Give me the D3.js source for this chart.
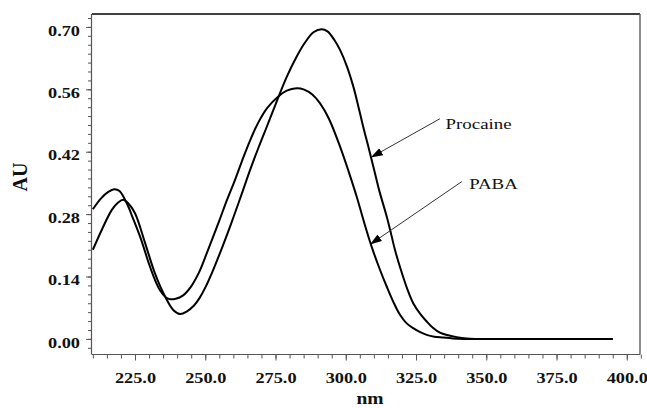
<!DOCTYPE html>
<html>
<head>
<meta charset="utf-8">
<script src="https://cdn.jsdelivr.net/npm/d3@7"></script>
<style>
  body { margin: 0; background: #fff; }
  svg { display: block; }
  text { font-family: "Liberation Serif", "Times New Roman", serif; }
</style>
</head>
<body>
<script>
const width = 647;
const height = 408;

// PABA spectrum (lower main peak)
const pabaNm = [210, 213, 215.5, 217.6, 219.5, 222.6, 224, 227, 230, 232, 234, 236, 237.5, 239.5, 242, 245, 248, 251, 254.8, 257.5, 260.6, 263, 265.9, 269, 272, 276, 279, 282.5, 285, 288, 290.8, 294, 298, 301, 303.9, 306.5, 309.2, 312, 314.6, 317, 319.3, 321.5, 324, 326.5, 328.8, 331.5, 334.7, 338, 342, 360, 380, 395];
const pabaAU = [0.291, 0.316, 0.330, 0.336, 0.332, 0.297, 0.275, 0.226, 0.168, 0.134, 0.108, 0.093, 0.089, 0.090, 0.097, 0.118, 0.152, 0.200, 0.262, 0.308, 0.357, 0.398, 0.4445, 0.487, 0.518, 0.544, 0.557, 0.5625, 0.560, 0.549, 0.529, 0.494, 0.431, 0.376, 0.319, 0.262, 0.207, 0.158, 0.117, 0.082, 0.054, 0.036, 0.024, 0.015, 0.009, 0.005, 0.003, 0.001, 0, 0, 0, 0];

// Procaine spectrum (higher main peak)
const procNm = [210, 213.2, 216.7, 219, 220.8, 222.5, 225, 228.6, 232.1, 235.7, 238.6, 241, 243.5, 246, 248, 250, 252.5, 255.2, 258, 260.6, 263.3, 265.9, 269, 271.9, 274, 276, 279, 282.5, 285.5, 288.5, 291.4, 293.5, 296, 298, 300.5, 302.7, 304.5, 306.2, 308, 309.8, 312, 314.6, 316, 317.5, 319.6, 322, 324, 326.5, 328.8, 331, 333.5, 336.5, 339.5, 343, 346, 370, 395];
const procAU = [0.200, 0.245, 0.289, 0.306, 0.312, 0.305, 0.282, 0.215, 0.147, 0.095, 0.065, 0.056, 0.062, 0.075, 0.092, 0.115, 0.150, 0.192, 0.238, 0.283, 0.331, 0.378, 0.430, 0.476, 0.510, 0.542, 0.588, 0.633, 0.665, 0.688, 0.695, 0.690, 0.670, 0.648, 0.610, 0.566, 0.521, 0.476, 0.432, 0.387, 0.331, 0.274, 0.239, 0.200, 0.155, 0.110, 0.080, 0.056, 0.039, 0.025, 0.014, 0.008, 0.004, 0.001, 0, 0, 0];

const xTicks = [225, 250, 275, 300, 325, 350, 375, 400];
const yTicks = [0, 0.14, 0.28, 0.42, 0.56, 0.70];

// annotation: label text, arrow tail (nm, AU), arrow tip (nm, AU), label position
const labels = ["Procaine", "PABA"];
const arrowFrom = [[333.5, 0.494], [341.3, 0.353]];
const arrowTo = [[309.2, 0.408], [308.9, 0.213]];
const labelAt = [[335.5, 0.4705], [343.9, 0.3365]];

const stretch = 1.22; // text in the figure is wider than normal

const x = d3.scaleLinear().domain([209.7, 404.7]).range([92, 640]);
const y = d3.scaleLinear().domain([-0.035, 0.729]).range([354.5, 14]);

const svg = d3.select("body").append("svg")
  .attr("width", width)
  .attr("height", height);

const defs = svg.append("defs");
defs.append("marker")
  .attr("id", "arrow")
  .attr("markerUnits", "userSpaceOnUse")
  .attr("viewBox", "0 0 12 8")
  .attr("refX", 11)
  .attr("refY", 4)
  .attr("markerWidth", 12)
  .attr("markerHeight", 8)
  .attr("orient", "auto")
  .append("path")
  .attr("d", "M0,0 L12,4 L0,8 Z")
  .attr("fill", "#000");

// minor ticks
svg.append("g")
  .attr("transform", "translate(91,0)")
  .call(d3.axisLeft(y).tickValues(d3.range(-0.02, 0.73, 0.02)).tickSize(3).tickFormat(""))
  .call(g => g.select(".domain").remove())
  .selectAll("line").attr("stroke", "#555");

svg.append("g")
  .attr("transform", "translate(0,354.5)")
  .call(d3.axisBottom(x).tickValues(d3.range(210, 406, 5)).tickSize(4).tickFormat(""))
  .call(g => g.select(".domain").remove())
  .selectAll("line").attr("stroke", "#555");

// major axes
const yAxis = svg.append("g")
  .attr("transform", "translate(91,0)")
  .call(d3.axisLeft(y).tickValues(yTicks).tickSize(5).tickFormat(d3.format(".2f")));
yAxis.select(".domain").attr("stroke", "#555").attr("stroke-width", 1.2)
  .attr("d", `M0.5,${y.range()[1]}V${y.range()[0]}`);
yAxis.selectAll("line").attr("stroke", "#555");
yAxis.selectAll("text")
  .attr("x", -11 / stretch)
  .attr("dy", "0.55em")
  .attr("transform", `scale(${stretch},1)`)
  .attr("font-weight", "bold")
  .attr("font-size", 15)
  .attr("fill", "#111");

const xAxis = svg.append("g")
  .attr("transform", "translate(0,354.5)")
  .call(d3.axisBottom(x).tickValues(xTicks).tickSize(6).tickFormat(d3.format(".1f")));
xAxis.select(".domain").attr("stroke", "#555").attr("stroke-width", 1.2)
  .attr("d", `M${x.range()[0]},0H${x.range()[1]}`);
xAxis.selectAll("line").attr("stroke", "#555");
xAxis.selectAll("text")
  .attr("y", 18)
  .attr("dy", "0.71em")
  .attr("transform", `scale(${stretch},1)`)
  .attr("font-weight", "bold")
  .attr("font-size", 15)
  .attr("fill", "#111");

// frame: top and right
svg.append("line")
  .attr("x1", x.range()[0]).attr("x2", x.range()[1])
  .attr("y1", y.range()[1]).attr("y2", y.range()[1])
  .attr("stroke", "#000").attr("stroke-width", 1.5);
svg.append("line")
  .attr("x1", x.range()[1]).attr("x2", x.range()[1])
  .attr("y1", y.range()[1]).attr("y2", y.range()[0])
  .attr("stroke", "#666").attr("stroke-width", 1.5);

// spectra
const line = d3.line()
  .x(d => x(d[0]))
  .y(d => y(d[1]))
  .curve(d3.curveCatmullRom.alpha(0.5));

[[pabaNm, pabaAU], [procNm, procAU]].forEach(([nm, au]) => {
  svg.append("path")
    .datum(d3.zip(nm, au))
    .attr("d", line)
    .attr("fill", "none")
    .attr("stroke", "#000")
    .attr("stroke-width", 2);
});

// arrows and labels
labels.forEach((t, i) => {
  svg.append("line")
    .attr("x1", x(arrowFrom[i][0])).attr("y1", y(arrowFrom[i][1]))
    .attr("x2", x(arrowTo[i][0])).attr("y2", y(arrowTo[i][1]))
    .attr("stroke", "#333")
    .attr("stroke-width", 1)
    .attr("marker-end", "url(#arrow)");
  svg.append("text")
    .attr("transform", `translate(${x(labelAt[i][0])},${y(labelAt[i][1])}) scale(${stretch},1)`)
    .attr("font-size", 15.5)
    .attr("fill", "#111")
    .text(t);
});

// axis titles
svg.append("text")
  .attr("transform", "translate(26.5,177) rotate(-90)")
  .attr("text-anchor", "middle")
  .attr("font-weight", "bold")
  .attr("font-size", 20)
  .attr("fill", "#111")
  .text("AU");

svg.append("text")
  .attr("transform", `translate(370,404) scale(${stretch},1)`)
  .attr("text-anchor", "middle")
  .attr("font-weight", "bold")
  .attr("font-size", 16)
  .attr("fill", "#111")
  .text("nm");
</script>
</body>
</html>
